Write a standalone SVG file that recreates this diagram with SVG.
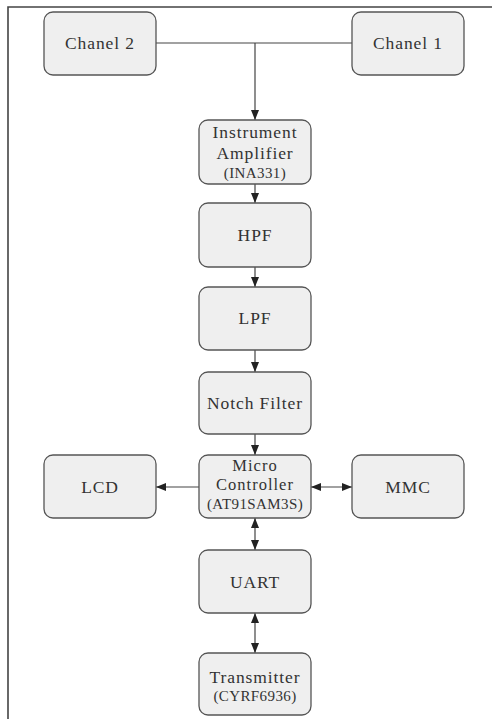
<svg xmlns="http://www.w3.org/2000/svg" width="492" height="719" viewBox="0 0 492 719">
<defs>
<marker id="ah" markerUnits="userSpaceOnUse" markerWidth="10" markerHeight="10" viewBox="0 0 10 10" refX="10" refY="5" orient="auto-start-reverse">
<path d="M0,1 L10,5 L0,9 Z" fill="#222"/>
</marker>
</defs>
<style>
.box{fill:#efefef;stroke:#555;stroke-width:1.3}
text{font-family:'Liberation Serif','DejaVu Serif',serif;fill:#333;text-anchor:middle}
.t{font-size:17.5px;letter-spacing:0.9px}
.m{font-size:16.5px;letter-spacing:1px}
.s{font-size:15px;letter-spacing:0.4px}
.c{stroke:#444;stroke-width:1.2;fill:none}
</style>
<rect width="492" height="719" fill="#fff"/>
<g id="frame"><path d="M8,719 L8,7 L492,7" fill="none" stroke="#444" stroke-width="1.6"/></g>
<g id="connectors">
<path class="c" d="M156,43 L352,43"/>
<path class="c" d="M255,43 L255,120" marker-end="url(#ah)"/>
<path class="c" d="M255,184 L255,203" marker-end="url(#ah)"/>
<path class="c" d="M255,267 L255,287" marker-end="url(#ah)"/>
<path class="c" d="M255,350 L255,372" marker-end="url(#ah)"/>
<path class="c" d="M255,434 L255,455" marker-end="url(#ah)"/>
<path class="c" d="M199,487 L156,487" marker-end="url(#ah)"/>
<path class="c" d="M311,487 L352,487" marker-start="url(#ah)" marker-end="url(#ah)"/>
<path class="c" d="M255,518 L255,550" marker-start="url(#ah)" marker-end="url(#ah)"/>
<path class="c" d="M255,613 L255,653" marker-start="url(#ah)" marker-end="url(#ah)"/>
</g>
<g id="chanel2"><rect class="box" x="44" y="12" width="112" height="63" rx="9"/><text class="t" x="100" y="49">Chanel 2</text></g>
<g id="chanel1"><rect class="box" x="352" y="12" width="112" height="63" rx="9"/><text class="t" x="408" y="49">Chanel 1</text></g>
<g id="amp"><rect class="box" x="199" y="120" width="112" height="64" rx="9"/><text class="t" x="255" y="138">Instrument</text><text class="t" x="255" y="159">Amplifier</text><text class="s" x="255" y="178">(INA331)</text></g>
<g id="hpf"><rect class="box" x="199" y="203" width="112" height="64" rx="9"/><text class="t" x="255" y="241">HPF</text></g>
<g id="lpf"><rect class="box" x="199" y="287" width="112" height="63" rx="9"/><text class="t" x="255" y="324">LPF</text></g>
<g id="notch"><rect class="box" x="199" y="372" width="112" height="62" rx="9"/><text class="t" x="255" y="409">Notch Filter</text></g>
<g id="lcd"><rect class="box" x="44" y="455" width="112" height="63" rx="9"/><text class="t" x="100" y="493">LCD</text></g>
<g id="micro"><rect class="box" x="199" y="455" width="112" height="63" rx="9"/><text class="m" x="255" y="471">Micro</text><text class="m" x="255" y="490">Controller</text><text class="s" x="255" y="509">(AT91SAM3S)</text></g>
<g id="mmc"><rect class="box" x="352" y="455" width="112" height="63" rx="9"/><text class="t" x="408" y="493">MMC</text></g>
<g id="uart"><rect class="box" x="199" y="550" width="112" height="63" rx="9"/><text class="t" x="255" y="588">UART</text></g>
<g id="tx"><rect class="box" x="199" y="653" width="112" height="62" rx="9"/><text class="t" x="255" y="683">Transmitter</text><text class="s" x="255" y="701">(CYRF6936)</text></g>
</svg>
